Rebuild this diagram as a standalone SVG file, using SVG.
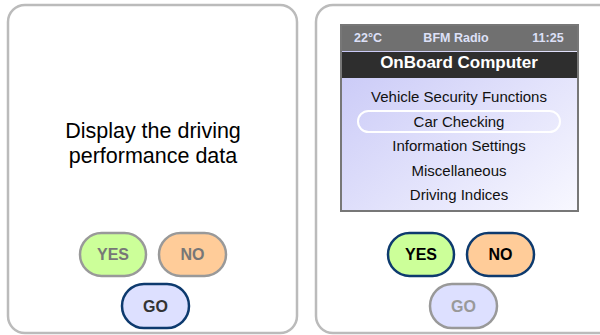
<svg xmlns="http://www.w3.org/2000/svg" width="600" height="335" viewBox="0 0 600 335">
<defs>
<linearGradient id="lav" x1="0" y1="0" x2="1" y2="1">
<stop offset="0" stop-color="#c4c4f6"/>
<stop offset="1" stop-color="#f8f8ff"/>
</linearGradient>
</defs>
<style>
text{font-family:"Liberation Sans",Arial,sans-serif;text-anchor:middle}
.panel{fill:#fff;stroke:#bbb;stroke-width:2.5}
.btn{stroke-width:2.5}
.yes{fill:#ccff99}
.no{fill:#ffcc99}
.go{fill:#dde0ff}
.on{stroke:#0d3a6e}
.off{stroke:#999}
.bt{font-size:16px;font-weight:bold}
.bton{fill:#000}
.btoff{fill:#777}
.menu{font-size:15px;fill:#111}
</style>
<g id="left-panel">
<rect class="panel" x="8" y="5" width="289" height="328" rx="17"/>
<text x="153" y="138" font-size="21.5" fill="#000">Display the driving</text>
<text x="153" y="163" font-size="21.5" fill="#000">performance data</text>
</g>
<g id="left-yes"><rect class="btn yes off" x="80" y="233" width="66" height="43" rx="21.5"/><text class="bt btoff" x="113" y="260">YES</text></g>
<g id="left-no"><rect class="btn no off" x="159" y="233" width="67" height="43" rx="21.5"/><text class="bt btoff" x="192.5" y="260">NO</text></g>
<g id="left-go"><rect class="btn go on" x="122" y="284" width="67" height="44" rx="22"/><text class="bt" fill="#333" x="155.5" y="312">GO</text></g>
<g id="right-panel">
<rect class="panel" x="316" y="5" width="300" height="328" rx="17"/>
</g>
<g id="screen">
<rect x="341" y="25" width="237" height="186" fill="url(#lav)" stroke="#777" stroke-width="2"/>
<rect x="342" y="26" width="235" height="25" fill="#707070"/>
<rect x="342" y="52" width="235" height="26" fill="#2e2e2e"/>
<text x="368" y="42" font-size="12.5" font-weight="bold" fill="#dde0f8">22°C</text>
<text x="456" y="42" font-size="12.5" font-weight="bold" fill="#dde0f8">BFM Radio</text>
<text x="548" y="42" font-size="12.5" font-weight="bold" fill="#dde0f8">11:25</text>
<text x="459" y="68" font-size="17" font-weight="bold" fill="#fff">OnBoard Computer</text>
<text class="menu" x="459" y="102">Vehicle Security Functions</text>
<rect x="358" y="111" width="202" height="21" rx="10.5" fill="none" stroke="#fff" stroke-width="2"/>
<text class="menu" x="459" y="126.5">Car Checking</text>
<text class="menu" x="459" y="151">Information Settings</text>
<text class="menu" x="459" y="175.5">Miscellaneous</text>
<text class="menu" x="459" y="200">Driving Indices</text>
</g>
<g id="right-yes"><rect class="btn yes on" x="388" y="233" width="66" height="43" rx="21.5"/><text class="bt bton" x="421" y="260">YES</text></g>
<g id="right-no"><rect class="btn no on" x="467" y="233" width="67" height="43" rx="21.5"/><text class="bt bton" x="500.5" y="260">NO</text></g>
<g id="right-go"><rect class="btn go off" x="430" y="284" width="67" height="44" rx="22"/><text class="bt" fill="#999" x="463.5" y="312">GO</text></g>
<g id="connectors"></g>
</svg>
